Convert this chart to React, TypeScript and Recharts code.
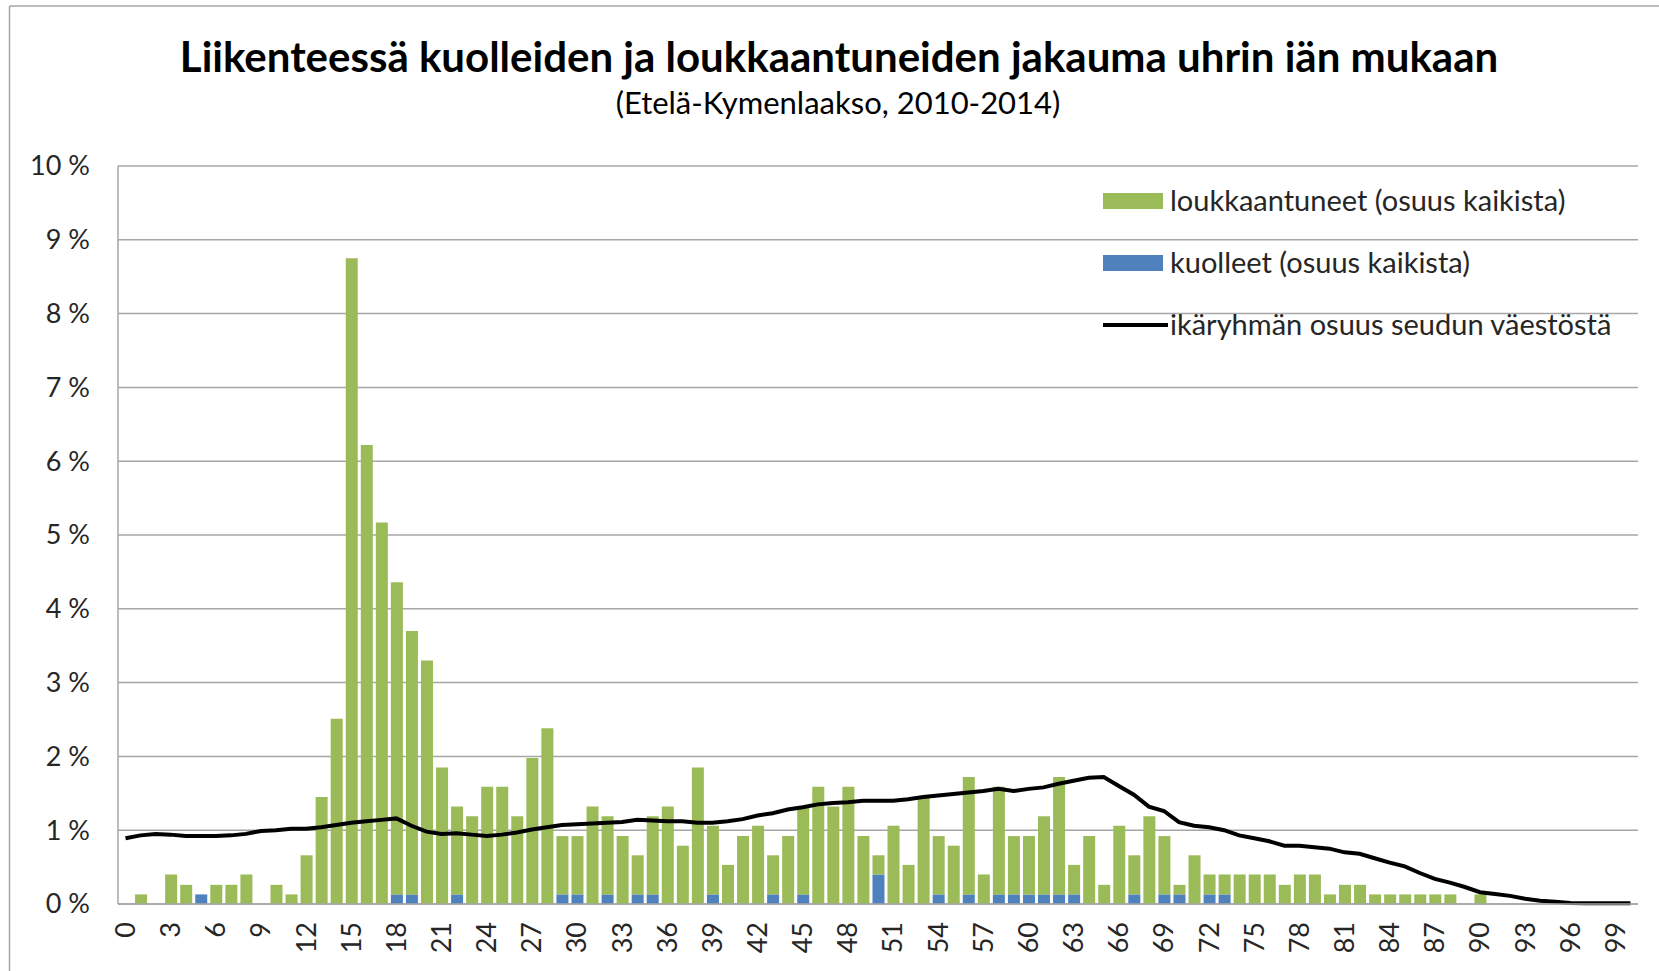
import {
  ComposedChart,
  Bar,
  Line,
  XAxis,
  YAxis,
  CartesianGrid,
  Legend,
} from 'recharts'

// ages 0..100, one category per year
const ages = Array.from({ length: 101 }, (_, i) => String(i))

// kuolleet (share of all victims, %)
const killed = [
  0, 0, 0, 0, 0, 0.13, 0, 0, 0, 0,
  0, 0, 0, 0, 0, 0, 0, 0, 0.13, 0.13,
  0, 0, 0.13, 0, 0, 0, 0, 0, 0, 0.13,
  0.13, 0, 0.13, 0, 0.13, 0.13, 0, 0, 0, 0.13,
  0, 0, 0, 0.13, 0, 0.13, 0, 0, 0, 0,
  0.4, 0, 0, 0, 0.13, 0, 0.13, 0, 0.13, 0.13,
  0.13, 0.13, 0.13, 0.13, 0, 0, 0, 0.13, 0, 0.13,
  0.13, 0, 0.13, 0.13, 0, 0, 0, 0, 0, 0,
  0, 0, 0, 0, 0, 0, 0, 0, 0, 0,
  0, 0, 0, 0, 0, 0, 0, 0, 0, 0,
  0,
]

// loukkaantuneet (share of all victims, %), drawn on top of kuolleet
const injured = [
  0, 0.13, 0, 0.4, 0.26, 0, 0.26, 0.26, 0.4, 0,
  0.26, 0.13, 0.66, 1.45, 2.51, 8.75, 6.22, 5.17, 4.23, 3.57,
  3.3, 1.85, 1.19, 1.19, 1.59, 1.59, 1.19, 1.98, 2.38, 0.79,
  0.79, 1.32, 1.06, 0.92, 0.53, 1.06, 1.32, 0.79, 1.85, 0.93,
  0.53, 0.92, 1.06, 0.53, 0.92, 1.19, 1.59, 1.32, 1.59, 0.92,
  0.26, 1.06, 0.53, 1.45, 0.79, 0.79, 1.59, 0.4, 1.46, 0.79,
  0.79, 1.06, 1.59, 0.4, 0.92, 0.26, 1.06, 0.53, 1.19, 0.79,
  0.13, 0.66, 0.27, 0.27, 0.4, 0.4, 0.4, 0.26, 0.4, 0.4,
  0.13, 0.26, 0.26, 0.13, 0.13, 0.13, 0.13, 0.13, 0.13, 0,
  0.13, 0, 0, 0, 0, 0, 0, 0, 0, 0,
  0,
]

// ikäryhmän osuus seudun väestöstä (%)
const population = [
  0.89, 0.93, 0.95, 0.94, 0.92, 0.92, 0.92, 0.93, 0.95, 0.99,
  1.0, 1.02, 1.02, 1.04, 1.07, 1.1, 1.12, 1.14, 1.16, 1.06,
  0.98, 0.95, 0.96, 0.94, 0.92, 0.94, 0.97, 1.01, 1.04, 1.07,
  1.08, 1.09, 1.1, 1.11, 1.14, 1.13, 1.12, 1.12, 1.1, 1.1,
  1.12, 1.15, 1.2, 1.23, 1.28, 1.31, 1.35, 1.37, 1.38, 1.4,
  1.4, 1.4, 1.42, 1.45, 1.47, 1.49, 1.51, 1.53, 1.56, 1.53,
  1.56, 1.58, 1.63, 1.67, 1.71, 1.72, 1.6, 1.48, 1.32, 1.26,
  1.11, 1.06, 1.04, 1.0, 0.93, 0.89, 0.85, 0.79, 0.79, 0.77,
  0.75, 0.7, 0.68, 0.62, 0.56, 0.51, 0.42, 0.34, 0.29, 0.23,
  0.16, 0.135, 0.11, 0.07, 0.045, 0.03, 0.015, 0.01, 0.01, 0.01,
  0.01,
]

const yTicks = [0, 1, 2, 3, 4, 5, 6, 7, 8, 9, 10]

const GREEN = '#9bbb59'
const BLUE = '#4f81bd'
const GRID = '#a6a6a6'
const TEXT = '#262626'

const data = ages.map((age, i) => ({
  age,
  killed: killed[i],
  injured: injured[i],
  population: population[i],
}))

const XTick = ({ x, payload }: any) => (
  <text
    x={x}
    y={922}
    transform={`rotate(-90, ${x}, 922)`}
    textAnchor="end"
    dy="0.35em"
    fontSize={27}
    fill={TEXT}
  >
    {payload.value}
  </text>
)

const YTick = ({ y, payload }: any) => (
  <text x={90} y={y} dy="0.35em" textAnchor="end" fontSize={27} fill={TEXT}>
    {payload.value} %
  </text>
)

const LegendBox = () => (
  <svg width={560} height={170} style={{ display: 'block' }}>
    <rect x={3} y={13} width={60} height={16} fill={GREEN} />
    <text x={70} y={31} fontSize={29} fill={TEXT}>loukkaantuneet (osuus kaikista)</text>
    <rect x={3} y={75} width={60} height={16} fill={BLUE} />
    <text x={70} y={93} fontSize={29} fill={TEXT}>kuolleet (osuus kaikista)</text>
    <line x1={3} x2={68} y1={145} y2={145} stroke="#000" strokeWidth={4} />
    <text x={70} y={155} fontSize={29} fill={TEXT}>ikäryhmän osuus seudun väestöstä</text>
  </svg>
)

export default function App() {
  return (
    <div
      style={{
        position: 'absolute',
        left: 0,
        top: 0,
        width: 1659,
        height: 971,
        background: '#fff',
        fontFamily: 'Lato, sans-serif',
        overflow: 'hidden',
      }}
    >
      <ComposedChart
        width={1659}
        height={971}
        data={data}
        margin={{ top: 166, right: 21, bottom: 7, left: 10 }}
        barSize={12}
      >
        <CartesianGrid vertical={false} stroke={GRID} strokeWidth={1.5} />
        <XAxis
          dataKey="age"
          interval={2}
          tickLine={false}
          axisLine={{ stroke: GRID, strokeWidth: 1.5 }}
          tick={<XTick />}
          height={60}
        />
        <YAxis
          domain={[0, 10]}
          ticks={yTicks}
          tickLine={false}
          axisLine={{ stroke: GRID, strokeWidth: 1.5 }}
          tick={<YTick />}
          width={108}
        />
        <Legend
          layout="horizontal"
          verticalAlign="middle"
          align="center"
          content={<LegendBox />}
          wrapperStyle={{ left: 1100, top: 180, width: 560, height: 170 }}
        />
        <Bar dataKey="killed" stackId="a" fill={BLUE} isAnimationActive={false} />
        <Bar dataKey="injured" stackId="a" fill={GREEN} isAnimationActive={false} />
        <Line
          dataKey="population"
          type="linear"
          stroke="#000"
          strokeWidth={4}
          dot={false}
          activeDot={false}
          isAnimationActive={false}
        />
      </ComposedChart>

      <svg
        width={1659}
        height={971}
        style={{ position: 'absolute', left: 0, top: 0, pointerEvents: 'none' }}
      >
        <line x1={9.5} x2={1659} y1={6} y2={6} stroke={GRID} strokeWidth={1.5} />
        <line x1={9.5} x2={9.5} y1={6} y2={971} stroke={GRID} strokeWidth={1.5} />
        <text x={839} y={72} textAnchor="middle" fontSize={42} fontWeight={700} fill="#000">
          Liikenteessä kuolleiden ja loukkaantuneiden jakauma uhrin iän mukaan
        </text>
        <text x={838} y={114} textAnchor="middle" fontSize={31} fill="#000">
          (Etelä-Kymenlaakso, 2010-2014)
        </text>
      </svg>
    </div>
  )
}
